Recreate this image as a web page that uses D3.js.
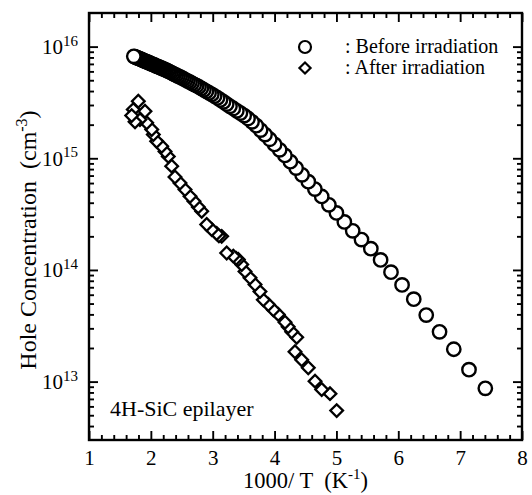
<!DOCTYPE html>
<html>
<head>
<meta charset="utf-8">
<script src="https://cdn.jsdelivr.net/npm/d3@7"></script>
<style>
  body { margin: 0; background: #fff; }
  text { font-family: "Liberation Serif", "Times New Roman", serif; fill: #000; white-space: pre; }
</style>
</head>
<body>
<script>
// Before irradiation (1000/T in K^-1, hole concentration in cm^-3)
const beforeX = [1.724, 1.739, 1.754, 1.770, 1.786, 1.802, 1.818, 1.835, 1.852, 1.869,
  1.887, 1.905, 1.923, 1.942, 1.961, 1.980, 2.000, 2.020, 2.041, 2.062,
  2.083, 2.105, 2.128, 2.151, 2.174, 2.198, 2.222, 2.247, 2.273, 2.299,
  2.326, 2.353, 2.381, 2.410, 2.439, 2.469, 2.500, 2.532, 2.564, 2.597,
  2.632, 2.667, 2.703, 2.740, 2.778, 2.817, 2.857, 2.899, 2.941, 2.985,
  3.030, 3.077, 3.125, 3.175, 3.226, 3.279, 3.333, 3.390, 3.448, 3.509,
  3.571, 3.636, 3.704, 3.774, 3.846, 3.922, 4.000, 4.082, 4.167, 4.255,
  4.348, 4.444, 4.545, 4.651, 4.762, 4.878, 5.000, 5.128, 5.263, 5.405,
  5.556, 5.714, 5.882, 6.061, 6.250, 6.452, 6.667, 6.897, 7.143, 7.407];
const beforeP = [8.18e15, 8.11e15, 8.05e15, 7.98e15, 7.91e15, 7.85e15, 7.78e15, 7.71e15, 7.64e15, 7.57e15,
  7.50e15, 7.41e15, 7.35e15, 7.28e15, 7.19e15, 7.13e15, 7.05e15, 6.97e15, 6.89e15, 6.81e15,
  6.73e15, 6.65e15, 6.58e15, 6.49e15, 6.41e15, 6.32e15, 6.24e15, 6.15e15, 6.05e15, 5.96e15,
  5.86e15, 5.75e15, 5.65e15, 5.55e15, 5.45e15, 5.35e15, 5.24e15, 5.13e15, 5.02e15, 4.91e15,
  4.80e15, 4.69e15, 4.57e15, 4.46e15, 4.35e15, 4.23e15, 4.10e15, 3.98e15, 3.85e15, 3.73e15,
  3.60e15, 3.47e15, 3.33e15, 3.20e15, 3.06e15, 2.92e15, 2.79e15, 2.66e15, 2.54e15, 2.41e15,
  2.27e15, 2.12e15, 1.96e15, 1.79e15, 1.63e15, 1.48e15, 1.33e15, 1.19e15, 1.06e15, 9.33e14,
  8.17e14, 7.11e14, 6.17e14, 5.30e14, 4.55e14, 3.83e14, 3.24e14, 2.69e14, 2.24e14, 1.87e14,
  1.55e14, 1.23e14, 9.55e13, 7.35e13, 5.47e13, 3.94e13, 2.79e13, 1.95e13, 1.28e13, 8.7e12];

// After irradiation
const afterX = [1.690, 1.716, 1.744, 1.797, 1.824, 1.905, 1.932, 2.014, 2.040, 2.094,
  2.175, 2.229, 2.282, 2.337, 2.390, 2.471, 2.552, 2.633, 2.697, 2.767,
  2.822, 2.903, 2.984, 3.064, 3.100, 3.145, 3.226, 3.333, 3.380, 3.414,
  3.469, 3.522, 3.603, 3.684, 3.764, 3.818, 3.899, 3.980, 4.060, 4.169,
  4.220, 4.277, 4.358, 4.330, 4.438, 4.545, 4.654, 4.762, 4.896, 5.004];
const afterP = [2.41e15, 2.73e15, 2.12e15, 3.24e15, 2.22e15, 2.64e15, 2.08e15, 1.81e15, 1.63e15, 1.42e15,
  1.28e15, 1.15e15, 1.04e15, 8.5e14, 6.8e14, 6.0e14, 5.24e14, 4.56e14, 4.12e14, 3.67e14,
  3.35e14, 2.55e14, 2.30e14, 2.12e14, 2.02e14, 2.00e14, 1.42e14, 1.33e14, 1.27e14, 1.24e14,
  1.12e14, 9.7e13, 8.5e13, 7.4e13, 6.4e13, 5.4e13, 4.9e13, 4.4e13, 4.0e13, 3.4e13,
  3.1e13, 2.79e13, 2.49e13, 1.85e13, 1.57e13, 1.33e13, 1.01e13, 8.5e12, 7.8e12, 5.5e12];

const xTicks = [1, 2, 3, 4, 5, 6, 7, 8];
const yTicks = [1e13, 1e14, 1e15, 1e16];
const legendLabels = [': Before irradiation', ': After irradiation'];
const sampleLabel = '4H-SiC epilayer';

const width = 532;
const height = 495;
const margin = { top: 13, right: 10, bottom: 55, left: 89 };
const w = width - margin.left - margin.right;
const h = height - margin.top - margin.bottom;

const svg = d3.select('body')
  .append('svg')
  .attr('width', width)
  .attr('height', height);

const g = svg.append('g')
  .attr('transform', `translate(${margin.left},${margin.top})`);

const x = d3.scaleLinear().domain([1, 8]).range([0, w]);
const y = d3.scaleLog().domain([3e12, 2e16]).range([h, 0]);

// minor tick positions
const xMinor = d3.range(1, 8.001, 0.2).filter(d => Math.abs(d - Math.round(d)) > 1e-6);
const yMinor = [];
for (let e = 12; e <= 16; e++) {
  for (let m = 2; m <= 9; m++) {
    const v = m * Math.pow(10, e);
    if (v > 3e12 && v < 2e16) yMinor.push(v);
  }
}

function styleAxis(sel) {
  sel.select('.domain').remove();
  sel.selectAll('.tick line').attr('stroke', '#000').attr('stroke-width', 1.9);
}

// x axes (bottom + top)
g.append('g')
  .attr('transform', `translate(0,${h})`)
  .call(d3.axisBottom(x).tickValues(xTicks).tickSize(-9).tickPadding(10).tickFormat(d3.format('d')))
  .call(styleAxis)
  .selectAll('text').attr('font-size', 21).attr('font-family', null);
g.append('g')
  .attr('transform', `translate(0,${h})`)
  .call(d3.axisBottom(x).tickValues(xMinor).tickSize(-5).tickFormat(''))
  .call(styleAxis);
g.append('g')
  .call(d3.axisTop(x).tickValues(xTicks).tickSize(-9).tickFormat(''))
  .call(styleAxis);
g.append('g')
  .call(d3.axisTop(x).tickValues(xMinor).tickSize(-5).tickFormat(''))
  .call(styleAxis);

// y axes (left + right)
const yLeft = g.append('g')
  .call(d3.axisLeft(y).tickValues(yTicks).tickSize(-9).tickPadding(12).tickFormat(() => '10'))
  .call(styleAxis);
yLeft.selectAll('.tick text')
  .attr('font-size', 21)
  .attr('font-family', null)
  .attr('dy', '0.32em')
  .append('tspan')
  .attr('dy', '-0.55em')
  .attr('font-size', 15)
  .text(d => Math.round(Math.log10(d)));
yLeft.selectAll('.tick text').attr('x', -11);
g.append('g')
  .call(d3.axisLeft(y).tickValues(yMinor).tickSize(-5).tickFormat(''))
  .call(styleAxis);
g.append('g')
  .attr('transform', `translate(${w},0)`)
  .call(d3.axisRight(y).tickValues(yTicks).tickSize(-9).tickFormat(''))
  .call(styleAxis);
g.append('g')
  .attr('transform', `translate(${w},0)`)
  .call(d3.axisRight(y).tickValues(yMinor).tickSize(-5).tickFormat(''))
  .call(styleAxis);

// frame
g.append('rect')
  .attr('width', w)
  .attr('height', h)
  .attr('fill', 'none')
  .attr('stroke', '#000')
  .attr('stroke-width', 2.4);

// data: drawn from low temperature to high so the leftmost points sit on top
const before = beforeX.map((d, i) => ({ x: d, p: beforeP[i] })).reverse();
const after = afterX.map((d, i) => ({ x: d, p: afterP[i] })).reverse();
const diamond = d3.symbol(d3.symbolSquare, 80)();

g.append('g')
  .selectAll('path')
  .data(after)
  .join('path')
  .attr('d', diamond)
  .attr('transform', d => `translate(${x(d.x)},${y(d.p)}) rotate(45)`)
  .attr('fill', '#fff')
  .attr('stroke', '#000')
  .attr('stroke-width', 2.3);

g.append('g')
  .selectAll('circle')
  .data(before)
  .join('circle')
  .attr('cx', d => x(d.x))
  .attr('cy', d => y(d.p))
  .attr('r', 6.7)
  .attr('fill', '#fff')
  .attr('stroke', '#000')
  .attr('stroke-width', 2.4);

// legend
const legend = g.append('g').attr('transform', 'translate(216,34)');
legend.append('circle')
  .attr('r', 6)
  .attr('fill', '#fff')
  .attr('stroke', '#000')
  .attr('stroke-width', 2.2);
legend.append('path')
  .attr('d', d3.symbol(d3.symbolSquare, 62)())
  .attr('transform', 'translate(0,21) rotate(45)')
  .attr('fill', '#fff')
  .attr('stroke', '#000')
  .attr('stroke-width', 2.2);
legend.selectAll('text.lbl')
  .data(legendLabels)
  .join('text')
  .attr('class', 'lbl')
  .attr('x', 40)
  .attr('y', (d, i) => 6 + i * 21)
  .attr('font-size', 20)
  .text(d => d);

g.append('text')
  .attr('x', 21)
  .attr('y', 403)
  .attr('font-size', 22)
  .text(sampleLabel);

// axis titles
const xTitle = svg.append('text')
  .attr('x', margin.left + w / 2)
  .attr('y', 488)
  .attr('text-anchor', 'middle')
  .attr('font-size', 22.5);
xTitle.append('tspan').text('1000/ T  (K');
xTitle.append('tspan').attr('dy', -9).attr('font-size', 15).text('-1');
xTitle.append('tspan').attr('dy', 9).text(')');

const yTitle = svg.append('text')
  .attr('transform', 'translate(36,240) rotate(-90)')
  .attr('text-anchor', 'middle')
  .attr('font-size', 24);
yTitle.append('tspan').text('Hole Concentration  (cm');
yTitle.append('tspan').attr('dy', -9).attr('font-size', 16).text('-3');
yTitle.append('tspan').attr('dy', 9).text(')');
</script>
</body>
</html>
